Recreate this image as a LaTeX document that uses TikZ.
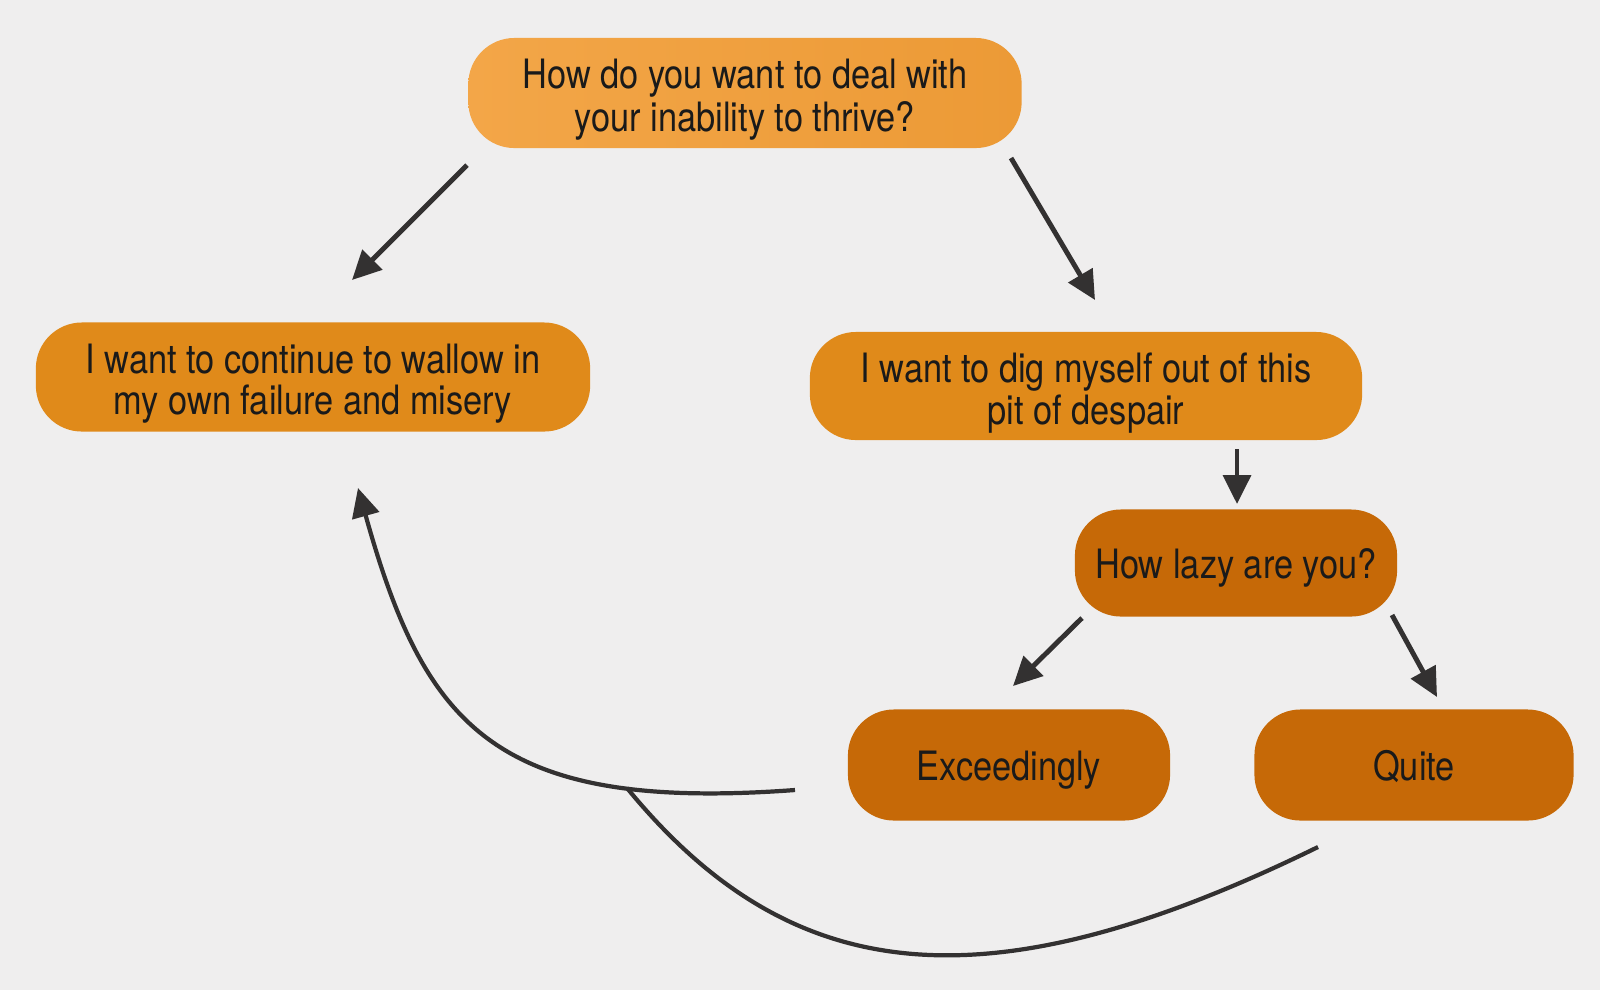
\documentclass[tikz,border=0pt]{standalone}
\usepackage{fontspec}
\setmainfont{TeX Gyre Heros}[FakeStretch=0.85]
\usetikzlibrary{arrows.meta}
\definecolor{bg}{HTML}{EFEEEE}
\definecolor{ink}{HTML}{333131}
\definecolor{txt}{HTML}{1A1A1A}
\definecolor{orL}{HTML}{F3A648}
\definecolor{orR}{HTML}{EC9A36}
\definecolor{orMid}{HTML}{E08A1A}
\definecolor{orDark}{HTML}{C66907}
\newcommand\lbl[2][-1.9pt]{\raisebox{#1}[\height][\depth]{\begin{tabular}{@{}c@{}}#2\end{tabular}}}
\tikzset{
  box/.style={rounded corners=0.46cm, text=txt,
    font=\fontsize{11.5}{11.7}\selectfont, inner sep=0pt},
  arr/.style={draw=ink, line width=1.4pt, -{Triangle[length=8.2pt,width=7.8pt]}},
  curv/.style={draw=ink, line width=1.2pt},
}
\begin{document}
\begin{tikzpicture}[x=0.01cm,y=-0.01cm]
\fill[bg] (0,0) rectangle (1600,990);
\useasboundingbox (0,0) rectangle (1600,990);

\node[box, left color=orL, right color=orR, minimum width=5.53cm, minimum height=1.10cm]
  (top) at (745,93) {\lbl[-2.4pt]{How do you want to deal with\\your inability to thrive?}};
\node[box, fill=orMid, minimum width=5.54cm, minimum height=1.09cm]
  (wallow) at (313,377) {\lbl[-2.4pt]{I want to continue to wallow in\\my own failure and misery}};
\node[box, fill=orMid, minimum width=5.52cm, minimum height=1.08cm]
  (dig) at (1086,386) {\lbl[-2.4pt]{I want to dig myself out of this\\pit of despair}};
\node[box, fill=orDark, minimum width=3.22cm, minimum height=1.07cm]
  (lazy) at (1236,563) {\lbl{How lazy are you?}};
\node[box, fill=orDark, minimum width=3.22cm, minimum height=1.11cm]
  (exc) at (1009,765) {\lbl{Exceedingly}};
\node[box, fill=orDark, minimum width=3.19cm, minimum height=1.11cm]
  (quite) at (1414,765) {\lbl{Quite}};

% connector end points
\coordinate (top-l) at (467,165);
\coordinate (wallow-t) at (352,280);
\coordinate (top-r) at (1011,158);
\coordinate (dig-t) at (1095,300);
\coordinate (dig-b) at (1237,449);
\coordinate (lazy-t) at (1237,504);
\coordinate (lazy-l) at (1082,618);
\coordinate (exc-t) at (1013,686);
\coordinate (lazy-r) at (1392,615);
\coordinate (quite-t) at (1437,697);
\coordinate (exc-l) at (795,790);
\coordinate (wallow-b) at (358,488);
\coordinate (quite-b) at (1318,847);
\coordinate (merge) at (627,788);

\draw[arr] (top-l) -- (wallow-t);
\draw[arr] (top-r) -- (dig-t);
\draw[arr] (dig-b) -- (lazy-t);
\draw[arr] (lazy-l) -- (exc-t);
\draw[arr] (lazy-r) -- (quite-t);

\draw[curv, -{Triangle[length=8.2pt,width=7.8pt]}]
  (exc-l) .. controls (496,812) and (425,728) .. (wallow-b);
\draw[curv] (quite-b) .. controls (985,1010) and (791,988) .. (merge);
\end{tikzpicture}
\end{document}
